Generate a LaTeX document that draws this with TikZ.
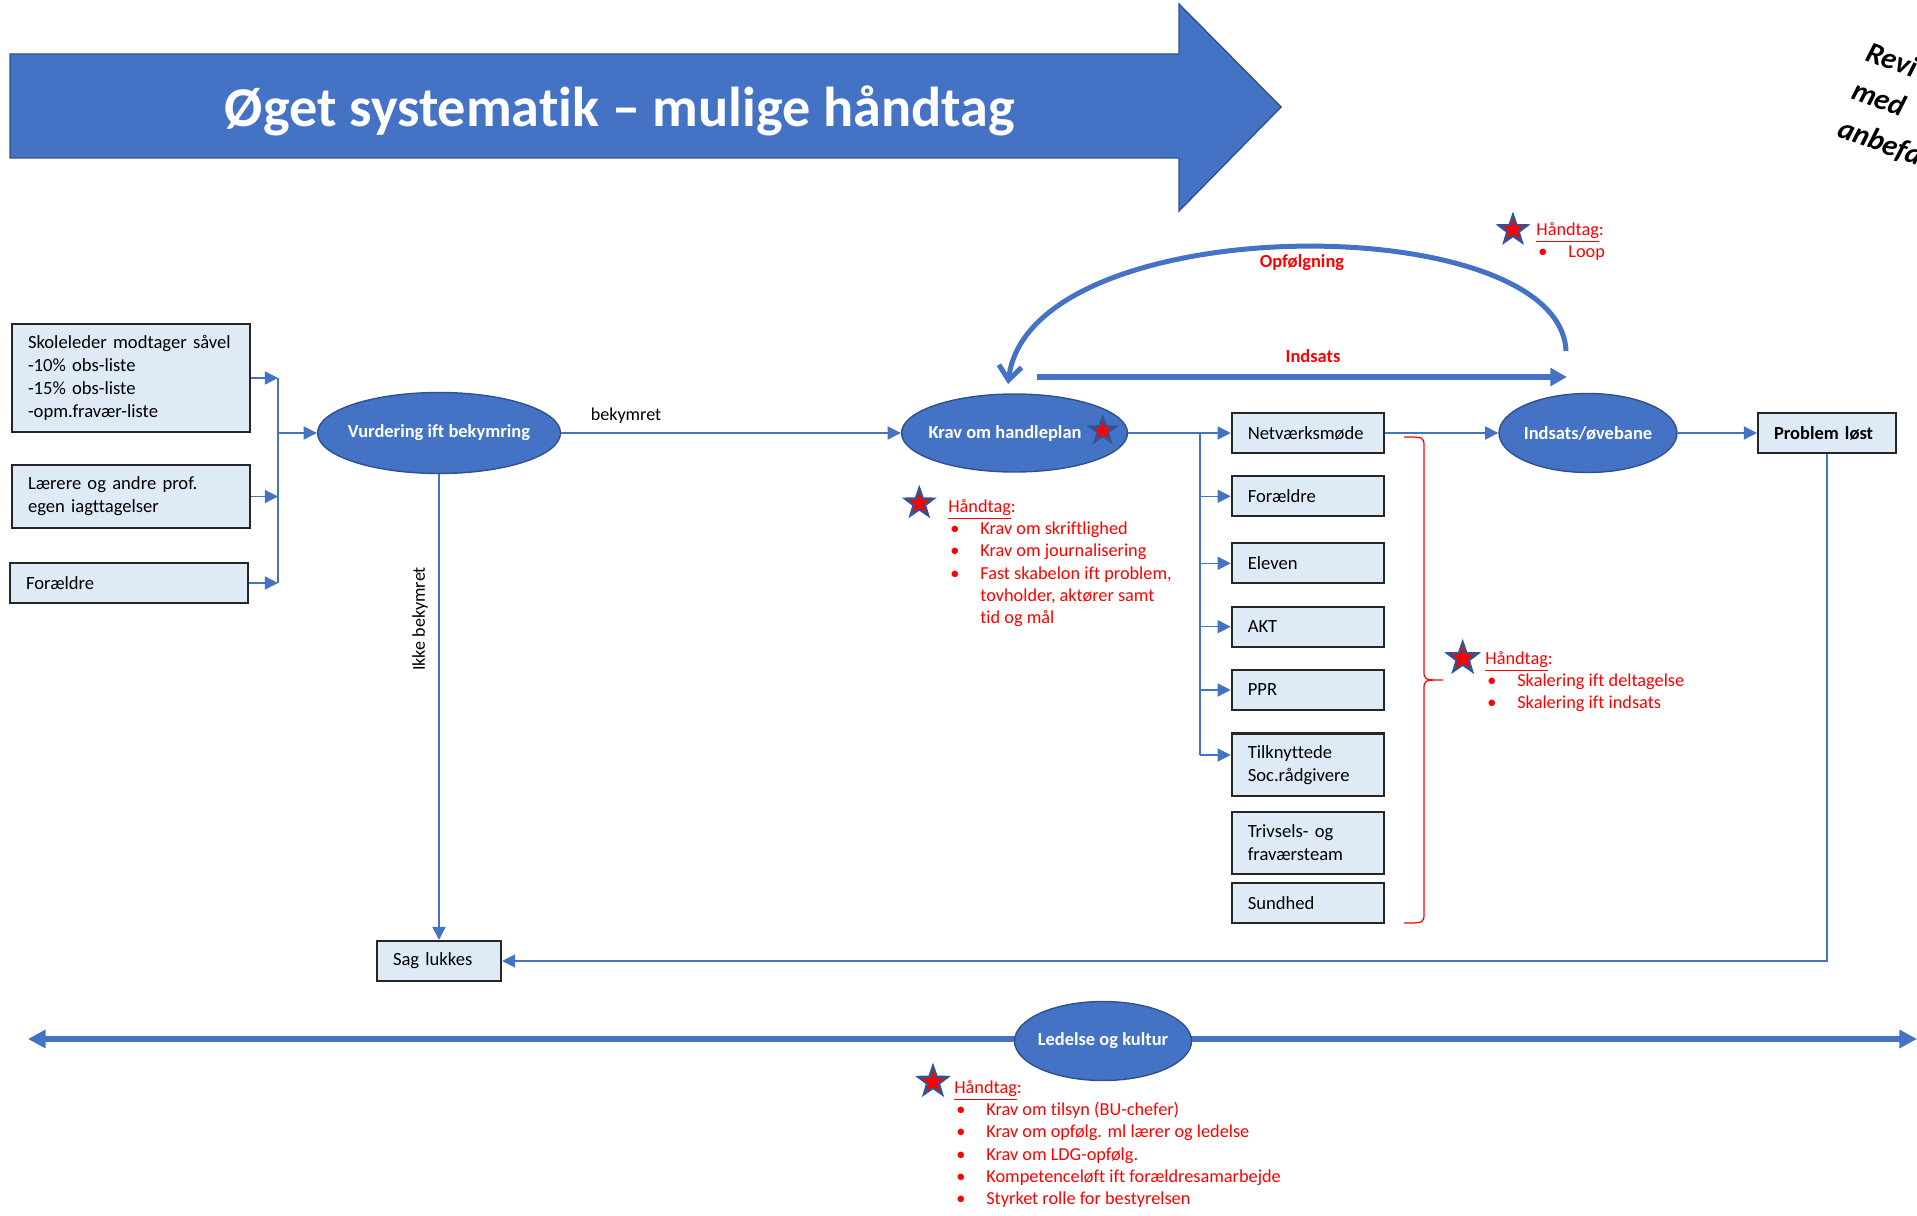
\documentclass[tikz,border=0pt]{standalone}
\usepackage{fontspec}
\setmainfont{Carlito}[Ligatures=NoCommon]
\usetikzlibrary{shapes.geometric,arrows.meta}

\definecolor{ovalblaa}{HTML}{4472C4}
\definecolor{ovalkant}{HTML}{2F528F}
\definecolor{boksfyld}{HTML}{DEEBF7}
\definecolor{stjernekant}{HTML}{2F5597}

\newcommand{\punkt}{\makebox[0.64cm][l]{\hspace{0.04cm}\textbullet}}
\newcommand{\ind}{\hspace*{0.64cm}}

\tikzset{
  boks/.style={rectangle, draw=black!85, line width=1.2pt, fill=boksfyld, inner xsep=0.32cm, inner ysep=0pt, align=left, text width=#1, font=\fontsize{10.6}{13.1}\selectfont},
  oval/.style={ellipse, draw=ovalkant, line width=0.8pt, fill=ovalblaa, inner sep=0pt},
  ovaltekst/.style={text=white, font=\fontsize{10.5}{12.9}\selectfont\bfseries},
  pil/.style={draw=ovalblaa, line width=0.75pt, -{Triangle[length=7.5pt,width=7.5pt]}},
  tynd/.style={draw=ovalblaa, line width=0.75pt},
  tykpil/.style={draw=ovalblaa, line width=3.4pt, -{Triangle[length=9.5pt,width=10pt]}},
  stjerne/.style={star, star points=5, star point ratio=2.5, fill=red, draw=stjernekant, line width=1.3pt, inner sep=0pt, minimum size=#1},
  haandtag/.style={text=red, align=left, inner sep=0pt, anchor=north west, font=\fontsize{10.4}{12.7}\selectfont},
  etiket/.style={font=\fontsize{10.3}{12.7}\selectfont, inner sep=0pt},
  rodetiket/.style={text=red, font=\fontsize{10.5}{12.7}\selectfont\bfseries, inner sep=0pt}
}

\begin{document}
\begin{tikzpicture}[x=0.02cm, y=-0.02cm]
\useasboundingbox (0,0) rectangle (1917,1216);

% overskrift
\filldraw[fill=ovalblaa, draw=ovalkant, line width=0.8pt] (10,54)--(1179,54)--(1179,4)--(1281,107)--(1179,211)--(1179,158)--(10,158)--cycle;
\node[text=white, font=\fontsize{32}{38}\selectfont\bfseries] (titel) at (620,111) {Øget systematik – mulige håndtag};
\node[rotate=-20, anchor=north west, align=left, inner sep=0pt, font=\fontsize{17}{23}\selectfont\bfseries\itshape] (revi) at (1871,40) {Revi\\med\\anbefa};

% kilder
\node[boks=4.12cm, minimum height=2.16cm] (skole) at (131,378) {Skoleleder modtager såvel\\-10\% obs-liste\\-15\% obs-liste\\-opm.fravær-liste};
\node[boks=4.12cm, minimum height=1.26cm] (laerere) at (131,496.5) {Lærere og andre prof.\\egen iagttagelser};
\node[boks=4.12cm, minimum height=0.8cm] (foraeldre) at (129,583) {Forældre};
\coordinate (saml) at (278,433);
\draw[pil] (skole.east) -- (skole.east -| saml);
\draw[pil] (laerere.east) -- (laerere.east -| saml);
\draw[pil] (foraeldre.east) -- (foraeldre.east -| saml);
\draw[tynd] (skole.east -| saml) -- (foraeldre.east -| saml);

% vurdering
\node[oval, minimum width=4.86cm, minimum height=1.62cm] (vurd) at (439,433) {};
\node[ovaltekst] (vurd-tekst) at (vurd) {Vurdering ift bekymring};
\draw[pil] (saml) -- (vurd.west);

\node[oval, minimum width=4.52cm, minimum height=1.56cm] (krav) at (1014.5,433) {};
\node[ovaltekst] (krav-tekst) at (1005,433) {Krav om handleplan};
\node[stjerne=0.54cm] (krav-stjerne) at (1102.7,430.7) {};
\draw[pil] (vurd.east) -- (krav.west);
\node[etiket] (bekymret) at (626,416) {bekymret};

\node[etiket, rotate=90] (ikke) at (420,619) {Ikke bekymret};
\node[boks=1.84cm, minimum height=0.8cm] (sag) at (439,961) {Sag lukkes};
\draw[pil] (vurd.south) -- (sag.north);

% aktoerer
\node[boks=2.41cm, minimum height=0.8cm] (netv) at (1308,433) {Netværksmøde};
\node[boks=2.41cm, minimum height=0.8cm] (foraeldre2) at (1308,496.3) {Forældre};
\node[boks=2.41cm, minimum height=0.8cm] (eleven) at (1308,563.3) {Eleven};
\node[boks=2.41cm, minimum height=0.8cm] (akt) at (1308,626.7) {AKT};
\node[boks=2.41cm, minimum height=0.8cm] (ppr) at (1308,690) {PPR};
\node[boks=2.41cm, minimum height=1.25cm] (tilk) at (1308,764.7) {Tilknyttede\\Soc.rådgivere};
\node[boks=2.41cm, minimum height=1.25cm] (triv) at (1308,842.8) {Trivsels- og\\fraværsteam};
\node[boks=2.41cm, minimum height=0.8cm] (sund) at (1308,903) {Sundhed};
\coordinate (fordel) at (1200,433);
\coordinate (fordel-bund) at (1200,755);
\draw[tynd] (krav.east) -- (fordel) -- (fordel-bund);
\draw[pil] (fordel) -- (netv.west);
\draw[pil] (fordel |- foraeldre2.west) -- (foraeldre2.west);
\draw[pil] (fordel |- eleven.west) -- (eleven.west);
\draw[pil] (fordel |- akt.west) -- (akt.west);
\draw[pil] (fordel |- ppr.west) -- (ppr.west);
\draw[pil] (fordel-bund) -- (fordel-bund -| tilk.west);

% indsats og afslutning
\node[oval, minimum width=3.56cm, minimum height=1.58cm] (indsats) at (1588,433) {};
\node[ovaltekst] (indsats-tekst) at (indsats) {Indsats/øvebane};
\draw[pil] (netv.east) -- (indsats.west);
\node[boks=2.12cm, minimum height=0.8cm, font=\fontsize{10.5}{12.9}\selectfont\bfseries] (loest) at (1827,433) {Problem løst};
\draw[pil] (indsats.east) -- (loest.west);
\draw[pil] (loest.south) |- (sag.east);

% opfoelgning og indsats
\coordinate (opf-start) at (1566,351);
\coordinate (opf-slut) at (1008,384);
\draw[draw=ovalblaa, line width=2.85pt, -{Straight Barb[length=8pt,width=13pt]}] (opf-start) .. controls (1560,207) and (1030,207) .. (opf-slut);
\node[rodetiket] (opf) at (1302,263) {Opfølgning};
\coordinate (ind-start) at (1037,377);
\coordinate (ind-slut) at (1567,377);
\draw[tykpil] (ind-start) -- (ind-slut);
\node[rodetiket] (ind) at (1313,356) {Indsats};

% klamme
\draw[red, line width=0.7pt] (1404,437) .. controls (1424,437) .. (1424,447) -- (1424,670) .. controls (1424,680) .. (1443,680) .. controls (1424,680) .. (1424,690) -- (1424,913) .. controls (1424,923) .. (1404,923);

% haandtag
\node[stjerne=0.6cm] (s1) at (919.3,503.3) {};
\node[haandtag] (h1) at (948,499) {\underline{Håndtag}:\\
\punkt Krav om skriftlighed\\
\punkt Krav om journalisering\\
\punkt Fast skabelon ift problem,\\
\ind tovholder, aktører samt\\
\ind tid og mål};
\node[stjerne=0.6cm] (s2) at (1513,230) {};
\node[haandtag] (h2) at (1536,222) {\underline{Håndtag}:\\
\punkt Loop};
\node[stjerne=0.64cm] (s3) at (1462.7,658.3) {};
\node[haandtag] (h3) at (1485,651) {\underline{Håndtag}:\\
\punkt Skalering ift deltagelse\\
\punkt Skalering ift indsats};

% ledelse
\coordinate (led-v) at (28,1039);
\coordinate (led-h) at (1917,1039);
\draw[draw=ovalblaa, line width=3.4pt, {Triangle[length=10pt,width=10pt]}-{Triangle[length=10pt,width=10pt]}] (led-v) -- (led-h);
\node[oval, minimum width=3.54cm, minimum height=1.58cm] (ledelse) at (1103,1041) {};
\node[ovaltekst] (ledelse-tekst) at (ledelse) {Ledelse og kultur};
\node[stjerne=0.62cm] (s5) at (933,1081.7) {};
\node[haandtag] (h5) at (954,1080) {\underline{Håndtag}:\\
\punkt Krav om tilsyn (BU-chefer)\\
\punkt Krav om opfølg. ml lærer og ledelse\\
\punkt Krav om LDG-opfølg.\\
\punkt Kompetenceløft ift forældresamarbejde\\
\punkt Styrket rolle for bestyrelsen};

\end{tikzpicture}
\end{document}
